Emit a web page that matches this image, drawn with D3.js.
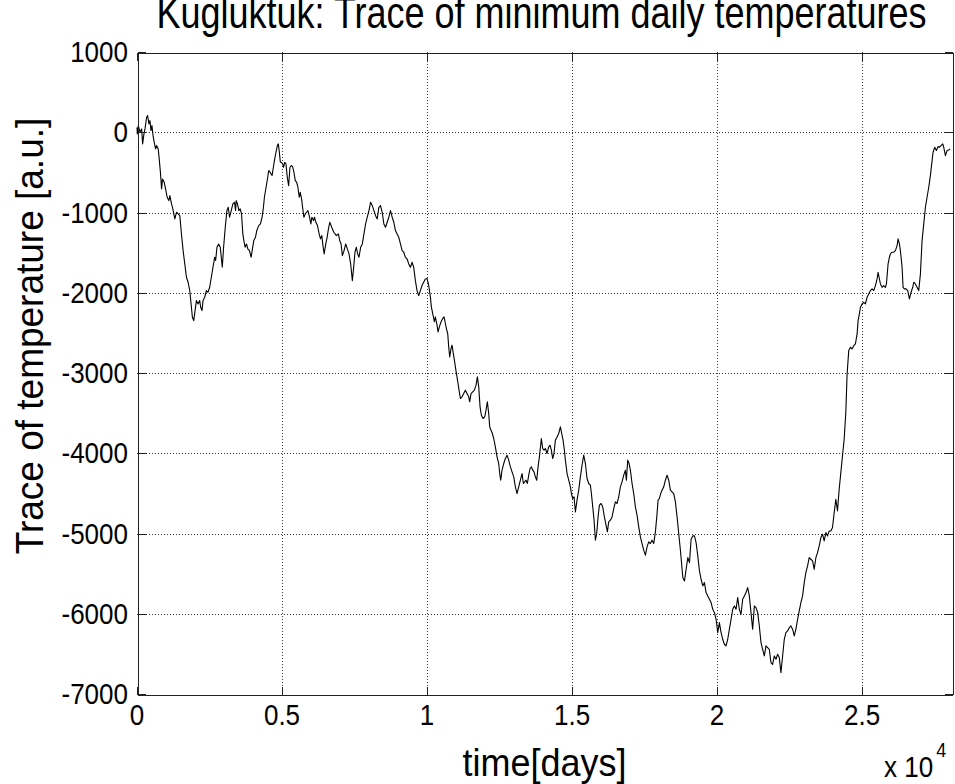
<!DOCTYPE html>
<html>
<head>
<meta charset="utf-8">
<script src="https://cdn.jsdelivr.net/npm/d3@7"></script>
<style>
  html, body { margin: 0; padding: 0; background: #fff; }
  svg { display: block; }
  text { font-family: "Liberation Sans", Arial, Helvetica, sans-serif; fill: #000; }
</style>
</head>
<body>
<svg id="chart" width="955" height="784"></svg>
<script>
// Cumulative trace of minimum daily temperatures, Kugluktuk
const days = [
  0, 11, 46, 103, 160, 194, 240, 275, 332, 366, 412, 446, 480, 515, 561, 595, 641, 675, 732, 766,
  812, 847, 881, 938, 984, 1041, 1098, 1133, 1190, 1224, 1270, 1304, 1361, 1419, 1476, 1533, 1590, 1647, 1705, 1762,
  1819, 1876, 1910, 1956, 2002, 2048, 2105, 2162, 2196, 2242, 2277, 2334, 2391, 2448, 2505, 2563, 2620, 2677, 2711, 2757,
  2814, 2871, 2906, 2940, 2986, 3043, 3100, 3146, 3192, 3249, 3306, 3363, 3398, 3421, 3466, 3512, 3558, 3604, 3649, 3684,
  3729, 3775, 3821, 3878, 3935, 3970, 4027, 4084, 4130, 4198, 4256, 4313, 4359, 4393, 4450, 4507, 4542, 4587, 4656, 4702,
  4748, 4793, 4839, 4873, 4908, 4942, 4976, 5022, 5056, 5091, 5137, 5182, 5228, 5274, 5320, 5365, 5411, 5457, 5503, 5548,
  5594, 5628, 5674, 5709, 5754, 5800, 5846, 5892, 5937, 5995, 6029, 6086, 6120, 6166, 6223, 6281, 6326, 6372, 6418, 6452,
  6509, 6555, 6601, 6647, 6692, 6738, 6784, 6830, 6875, 6944, 6990, 7036, 7081, 7139, 7196, 7253, 7310, 7367, 7425, 7470,
  7516, 7562, 7608, 7653, 7711, 7768, 7825, 7882, 7939, 7997, 8054, 8111, 8168, 8226, 8283, 8340, 8397, 8454, 8512, 8569,
  8626, 8683, 8740, 8798, 8855, 8912, 8969, 9026, 9084, 9141, 9198, 9255, 9312, 9369, 9427, 9484, 9541, 9598, 9655, 9713,
  9770, 9827, 9884, 9941,
  10000, 10057, 10115, 10149, 10207, 10253, 10287, 10345, 10379, 10425, 10483, 10540, 10586, 10632, 10667, 10713, 10747, 10782, 10828, 10862,
  10897, 10943, 10977, 11023, 11069, 11103, 11149, 11207, 11264, 11322, 11379, 11437, 11471, 11517, 11575, 11632, 11690, 11736, 11782, 11828,
  11874, 11931, 11989, 12034, 12080, 12126, 12161, 12207, 12253, 12299, 12356, 12414, 12471, 12506, 12540, 12586, 12644, 12701, 12759, 12816,
  12874, 12931, 12989, 13046, 13103, 13161, 13218, 13276, 13322, 13368, 13414, 13460, 13506, 13552, 13598, 13644, 13690, 13736, 13782, 13828,
  13874, 13942, 13988, 14034, 14080, 14138, 14195, 14241, 14287, 14333, 14379, 14425, 14483, 14540, 14598, 14644, 14690, 14736, 14770, 14828,
  14885, 14943, 14977, 15023, 15069, 15115, 15172, 15230, 15287, 15345, 15402, 15460, 15517, 15575, 15632, 15667, 15713, 15759, 15805, 15851,
  15897, 15943, 16000, 16057, 16115, 16172, 16218, 16264, 16322, 16379, 16437, 16494, 16552, 16609, 16667, 16724, 16782, 16839, 16874, 16920,
  16966, 17011, 17069, 17126, 17184, 17241, 17299, 17356, 17414, 17471, 17529, 17586, 17644, 17701, 17759, 17816, 17874, 17931, 17966, 18011,
  18057, 18103, 18161, 18218, 18276, 18333, 18391, 18448, 18506, 18563, 18621, 18678, 18736,
  18819, 18876, 18933, 18991, 19048, 19105, 19163, 19220, 19277, 19335, 19392, 19449, 19507, 19564, 19621, 19679, 19736, 19794, 19851, 19908,
  19966, 20023, 20080, 20138, 20195, 20252, 20310, 20367, 20424, 20482, 20539, 20596, 20654, 20711, 20768, 20826, 20883, 20941, 20998, 21055,
  21113, 21170, 21227, 21285, 21342, 21399, 21457, 21514, 21571, 21629, 21686, 21743, 21801, 21858, 21915, 21973, 22030, 22088, 22145, 22202,
  22260, 22317, 22374, 22432, 22489, 22546, 22604, 22661, 22718, 22776, 22833, 22890, 22948, 23005, 23062, 23120, 23177, 23235, 23292, 23349,
  23407, 23464, 23521, 23579, 23636, 23693, 23751, 23808, 23865, 23923, 23980, 24038, 24095, 24152, 24210, 24267, 24324, 24382, 24439,
  24483, 24540, 24598, 24655, 24713, 24770, 24828, 24862, 24908, 24943, 25000, 25057, 25115, 25172, 25230, 25287, 25345, 25402, 25460, 25517,
  25552, 25586, 25632, 25689, 25747, 25804, 25839, 25896, 25942, 25977, 26034, 26092, 26149, 26206, 26241, 26287, 26321, 26379, 26413, 26459,
  26517, 26574, 26632, 26689, 26746, 26781, 26838, 26896, 26953, 27011, 27068, 27126, 27183, 27240, 27298, 27355, 27413, 27447, 27505, 27562,
  27620, 27666, 27723, 27781, 27815, 27873, 27930, 27987, 28033
];

const trace = [
  60, -21, 83, 0, 42, -145, -21, 42, 187, 208, 104, 145, 21, 83, -62, -125, -208, -166, -208, -332,
  -519, -706, -582, -623, -706, -810, -852, -789, -893, -935, -1018, -1080, -997, -1018, -1039, -1267, -1475, -1641, -1807, -1869,
  -1973, -2181, -2305, -2347, -2222, -2098, -2139, -2098, -2181, -2222, -2098, -2056, -1973, -1994, -1932, -1807, -1682, -1558, -1599, -1433,
  -1392, -1433, -1558, -1682, -1433, -1184, -976, -935, -1059, -976, -893, -872, -976, -852, -893, -976, -955, -1018, -1267, -1350,
  -1433, -1392, -1454, -1475, -1558, -1475, -1350, -1309, -1225, -1163, -1142, -1059, -935, -810, -685, -561, -478, -498, -540, -436,
  -332, -249, -166, -145, -249, -374, -374, -395, -436, -374, -395, -561, -665, -436, -415, -428, -498, -602, -623, -685,
  -810, -748, -831, -935, -1059, -1018, -997, -976, -1039, -1142, -1059, -1101, -1059, -1122, -1163, -1267, -1329, -1288, -1433, -1516,
  -1392, -1309, -1205, -1122, -1163, -1205, -1246, -1267, -1288, -1267, -1350, -1392, -1537, -1475, -1392, -1454, -1516, -1641, -1849, -1682,
  -1495, -1433, -1516, -1558, -1433, -1392, -1267, -1142, -1059, -976, -872, -914, -976, -1039, -1080, -935, -914, -997, -1142, -1184,
  -1122, -1059, -976, -1059, -1122, -1225, -1267, -1309, -1392, -1475, -1495, -1558, -1579, -1641, -1682, -1620, -1682, -1849, -1973, -2036,
  -1973, -1911, -1869, -1828,
  -1822, -1906, -2051, -2176, -2279, -2362, -2300, -2404, -2487, -2425, -2362, -2321, -2300, -2383, -2446, -2508, -2674, -2799, -2695, -2653,
  -2736, -2840, -2923, -3027, -3131, -3214, -3318, -3297, -3256, -3214, -3256, -3297, -3359, -3256, -3235, -3214, -3152, -3048, -3173, -3422,
  -3526, -3567, -3546, -3463, -3359, -3505, -3671, -3713, -3754, -3816, -3920, -4045, -4128, -4253, -4336, -4211, -4128, -4066, -4024, -4086,
  -4170, -4232, -4294, -4419, -4502, -4419, -4336, -4253, -4377, -4356, -4336, -4377, -4273, -4190, -4170, -4211, -4232, -4294, -4336, -4170,
  -4045, -3816, -3941, -3962, -3941, -4003, -3920, -3900, -3962, -4066, -4003, -3837, -3796, -3754, -3671, -3754, -3837, -3962, -4086, -4253,
  -4336, -4419, -4502, -4564, -4543, -4730, -4585, -4460, -4294, -4149, -4024, -4128, -4315, -4377, -4398, -4502, -4668, -4834, -5083, -5000,
  -4793, -4647, -4626, -4668, -4793, -4896, -4979, -4855, -4834, -4793, -4689, -4606, -4626, -4543, -4419, -4356, -4273, -4211, -4336, -4086,
  -4128, -4211, -4377, -4502, -4668, -4772, -4917, -5042, -5125, -5208, -5270, -5166, -5104, -5125, -5083, -5125, -4980, -4751, -4585, -4564,
  -4502, -4460, -4419, -4336, -4273, -4336, -4460, -4481, -4502, -4606, -4793, -5000, -5208,
  -5549, -5591, -5446, -5300, -5363, -5072, -5030, -5030, -5113, -5279, -5466, -5570, -5653, -5612, -5736, -5778, -5819, -5861, -5944, -5986,
  -6069, -6235, -6110, -6235, -6318, -6380, -6401, -6318, -6193, -6069, -5944, -5903, -5944, -5799, -5944, -6006, -5819, -5778, -5736, -5674,
  -5778, -5986, -6193, -5903, -5923, -5986, -6152, -6359, -6443, -6526, -6401, -6422, -6443, -6609, -6630, -6526, -6567, -6505, -6546, -6733,
  -6526, -6318, -6235, -6214, -6173, -6152, -6193, -6276, -6193, -6069, -5965, -5861, -5778, -5612, -5487, -5404, -5300, -5321, -5342, -5446,
  -5300, -5238, -5155, -5051, -5009, -5093, -4989, -5030, -4968, -4968, -4926, -4739, -4573, -4719, -4449, -4241, -4033, -3826, -3493,
  -3012, -2721, -2679, -2700, -2659, -2638, -2513, -2347, -2264, -2181, -2139, -2119, -2139, -2056, -2015, -1973, -1952, -1973, -1911, -1828,
  -1745, -1807, -1890, -1932, -1911, -1932, -1890, -1641, -1558, -1516, -1495, -1495, -1475, -1412, -1329, -1392, -1475, -1682, -1932, -1952,
  -1952, -1973, -2077, -1994, -1932, -1869, -1890, -1932, -1973, -1765, -1350, -1142, -935, -810, -685, -540, -353, -249, -187, -228,
  -179, -187, -166, -145, -187, -291, -228, -220, -208
];

const xTickValues = [0, 5000, 10000, 15000, 20000, 25000];
const xTickLabels = ["0", "0.5", "1", "1.5", "2", "2.5"];
const yTickValues = [-7000, -6000, -5000, -4000, -3000, -2000, -1000, 0, 1000];
const yTickLabels = ["-7000", "-6000", "-5000", "-4000", "-3000", "-2000", "-1000", "0", "1000"];

const plot = { left: 137, right: 952, top: 52, bottom: 694 };
const tickLen = 8;
const stretch = 1.1; // glyphs are slightly taller than wide

const svg = d3.select("#chart");

const x = d3.scaleLinear().domain([0, 28100]).range([plot.left, plot.right]);
const y = d3.scaleLinear().domain([-7000, 1000]).range([plot.bottom, plot.top]);

// dotted grid
const grid = svg.append("g")
  .attr("stroke", "#333")
  .attr("stroke-width", 1)
  .attr("stroke-dasharray", "1,2")
  .attr("shape-rendering", "crispEdges");

grid.selectAll("line.gx")
  .data(xTickValues.filter(v => v > 0))
  .join("line")
  .attr("x1", d => Math.round(x(d)) + 0.5)
  .attr("x2", d => Math.round(x(d)) + 0.5)
  .attr("y1", plot.top)
  .attr("y2", plot.bottom);

grid.selectAll("line.gy")
  .data(yTickValues.filter(v => v > -7000 && v < 1000))
  .join("line")
  .attr("x1", plot.left)
  .attr("x2", plot.right)
  .attr("y1", d => Math.round(y(d)) + 0.5)
  .attr("y2", d => Math.round(y(d)) + 0.5);

// data trace
const points = days.map((d, i) => [d, trace[i]]);
svg.append("path")
  .datum(points)
  .attr("fill", "none")
  .attr("stroke", "#000")
  .attr("stroke-width", 1.1)
  .attr("stroke-linejoin", "round")
  .attr("d", d3.line().x(d => x(d[0])).y(d => y(d[1])));

// box axes with inward ticks
function styleAxis(g) {
  g.selectAll(".domain").attr("stroke", "#222").attr("shape-rendering", "crispEdges");
  g.selectAll(".tick line").attr("stroke", "#222").attr("shape-rendering", "crispEdges");
  g.selectAll(".tick text").remove();
}

styleAxis(svg.append("g")
  .attr("transform", `translate(0,${plot.bottom + 0.5})`)
  .call(d3.axisBottom(x).tickValues(xTickValues).tickSizeInner(-tickLen).tickSizeOuter(0)));

styleAxis(svg.append("g")
  .attr("transform", `translate(0,${plot.top + 0.5})`)
  .call(d3.axisTop(x).tickValues(xTickValues).tickSizeInner(-tickLen).tickSizeOuter(0)));

styleAxis(svg.append("g")
  .attr("transform", `translate(${plot.left + 0.5},0)`)
  .call(d3.axisLeft(y).tickValues(yTickValues).tickSizeInner(-tickLen).tickSizeOuter(0)));

styleAxis(svg.append("g")
  .attr("transform", `translate(${plot.right + 0.5},0)`)
  .call(d3.axisRight(y).tickValues(yTickValues).tickSizeInner(-tickLen).tickSizeOuter(0)));

// tick labels
svg.append("g").selectAll("text")
  .data(xTickValues)
  .join("text")
  .attr("transform", d => `translate(${x(d)},725) scale(1,${stretch})`)
  .attr("text-anchor", "middle")
  .attr("font-size", 26)
  .text((d, i) => xTickLabels[i]);

svg.append("g").selectAll("text")
  .data(yTickValues)
  .join("text")
  .attr("transform", d => `translate(128,${y(d) + 10}) scale(1,${stretch})`)
  .attr("text-anchor", "end")
  .attr("font-size", 26)
  .text((d, i) => yTickLabels[i]);

// titles and labels
svg.append("text")
  .attr("transform", `translate(${(plot.left + plot.right) / 2 - 3},28) scale(1,1.22)`)
  .attr("text-anchor", "middle")
  .attr("font-size", 36)
  .text("Kugluktuk: Trace of minimum daily temperatures");

svg.append("text")
  .attr("transform", `translate(${(plot.left + plot.right) / 2},776) scale(1,${stretch})`)
  .attr("text-anchor", "middle")
  .attr("font-size", 36)
  .text("time[days]");

svg.append("text")
  .attr("transform", "translate(43,336) rotate(-90) scale(1,1.05)")
  .attr("text-anchor", "middle")
  .attr("font-size", 37)
  .text("Trace of temperature [a.u.]");

const expo = svg.append("text")
  .attr("transform", `translate(884,777) scale(1,${stretch})`)
  .attr("font-size", 26);
expo.append("tspan").text("x 10");
expo.append("tspan").attr("font-size", 18).attr("dx", 3).attr("dy", -18).text("4");
</script>
</body>
</html>
